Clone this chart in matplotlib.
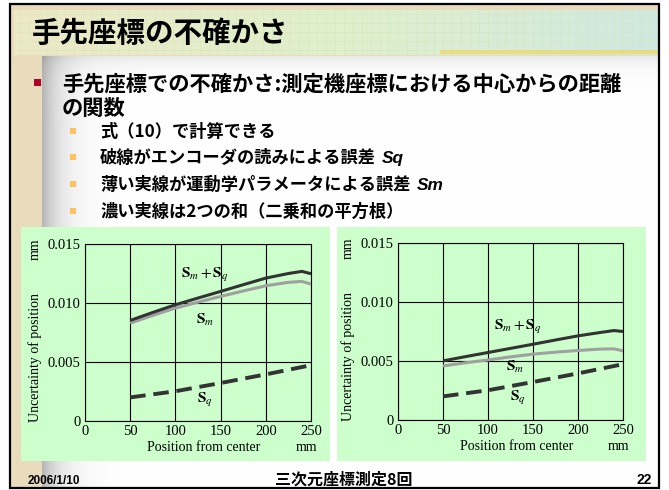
import numpy as np
import matplotlib
matplotlib.use("Agg")
import matplotlib.pyplot as plt
from matplotlib.patches import Rectangle

plt.rcParams['font.family'] = ['Noto Sans CJK JP', 'DejaVu Sans']
plt.rcParams['mathtext.fontset'] = 'stix'

# --- データ ---
pos = [50, 75, 100, 125, 150, 175, 200, 225, 240, 250]

# 左のグラフ
left_sum = [0.00852, 0.00920, 0.00985, 0.01042, 0.01098, 0.01155, 0.01211, 0.01250, 0.01268, 0.01248]
left_sm = [0.00829, 0.00895, 0.00957, 0.01007, 0.01056, 0.01102, 0.01146, 0.01175, 0.01183, 0.01160]
# 右のグラフ
right_sum = [0.00501, 0.00537, 0.00572, 0.00607, 0.00642, 0.00678, 0.00713, 0.00742, 0.00758, 0.00750]
right_sm = [0.00458, 0.00485, 0.00509, 0.00535, 0.00558, 0.00575, 0.00589, 0.00601, 0.00603, 0.00586]

pos_q = [50, 100, 150, 200, 250]
sq = [0.00200, 0.00252, 0.00322, 0.00395, 0.00473]

x_ticks = [0, 50, 100, 150, 200, 250]
y_ticks = [0, 0.005, 0.010, 0.015]
y_ticklabels = ['0', '0.005', '0.010', '0.015']

title = '手先座標の不確かさ'
main_bullet = ['手先座標での不確かさ:測定機座標における中心からの距離', 'の関数']
sub_bullets = ['式（10）で計算できる', '破線がエンコーダの読みによる誤差', '薄い実線が運動学パラメータによる誤差',
               '濃い実線は2つの和（二乗和の平方根）']
sub_suffix = ['', 'Sq', 'Sm', '']
footer_left = '2006/1/10'
footer_mid = '三次元座標測定8回'
footer_right = '22'

W, H = 669, 490
fig = plt.figure(figsize=(W / 100, H / 100), dpi=100)

# 背景（スライド）
bg = fig.add_axes([0, 0, 1, 1], zorder=0)
bg.set_xlim(0, W)
bg.set_ylim(H, 0)
bg.axis('off')

bg.add_patch(Rectangle((10, 4), 649, 484, facecolor='#E8DCBC', edgecolor='none'))

# 白い本文エリア（左に影）
xx = np.linspace(0, 616, 300)
yy = np.linspace(0, 430, 200)
X, Y = np.meshgrid(xx, yy)
shade = 1 - 0.28 * np.exp(-X / 18) - 0.08 * np.exp(-Y / 10)
img = np.dstack([shade, shade, shade])
bg.imshow(img, extent=(42, 658, 487, 57), aspect='auto', zorder=1)

# タイトル帯
tx = np.linspace(0, 1, 300)
c_left = np.array([0.93, 0.91, 0.78])
c_mid = np.array([0.88, 0.94, 0.80])
c_right = np.array([0.82, 0.91, 0.88])
band = np.where(tx[:, None] < 0.5,
                c_left + (c_mid - c_left) * (tx[:, None] / 0.5),
                c_mid + (c_right - c_mid) * ((tx[:, None] - 0.5) / 0.5))
band = np.repeat(band[None, :, :], 40, axis=0)
bg.imshow(band, extent=(14, 658, 55, 10), aspect='auto', zorder=1)
for gx in np.arange(20, 658, 9):
    bg.plot([gx, gx], [10, 55], color='#C8E8B0', lw=0.4, alpha=0.6, zorder=1.5)
for gy in np.arange(14, 55, 9):
    bg.plot([14, 658], [gy, gy], color='#C8E8B0', lw=0.4, alpha=0.6, zorder=1.5)
bg.add_patch(Rectangle((440, 50), 218, 4, facecolor='#F0D860', edgecolor='none', alpha=0.7, zorder=1.6))

bg.text(32, 34, title, fontsize=20.5, fontweight='bold', va='center', ha='left', zorder=3)

# 箇条書き
bg.add_patch(Rectangle((34, 79), 7, 7, facecolor='#B0002A', edgecolor='none', zorder=3))
bg.text(62, 84, main_bullet[0], fontsize=15.3, fontweight='bold', va='center', zorder=3)
bg.text(62, 108, main_bullet[1], fontsize=15.3, fontweight='bold', va='center', zorder=3)

renderer = fig.canvas.get_renderer()
for i, (s, suf) in enumerate(zip(sub_bullets, sub_suffix)):
    yb = [131, 157, 184, 211][i]
    bg.add_patch(Rectangle((70, yb - 3), 6, 6, facecolor='#FFC060', edgecolor='none', zorder=3))
    t = bg.text(100, yb + 1, s, fontsize=12.4, fontweight='bold', va='center', zorder=3)
    if suf:
        bb = t.get_window_extent(renderer)
        x_end = bg.transData.inverted().transform((bb.x1, bb.y0))[0]
        bg.text(x_end + 6, yb + 1, suf, fontsize=12.4, fontweight='bold', style='italic',
                family='Liberation Sans', va='center', zorder=3)

# 緑のパネル
bg.add_patch(Rectangle((21, 227), 309, 234, facecolor='#CCFFCC', edgecolor='none', zorder=2))
bg.add_patch(Rectangle((337, 227), 309, 234, facecolor='#CCFFCC', edgecolor='none', zorder=2))

# フッター
bg.text(28, 481, footer_left, fontsize=8.5, fontweight='bold', family='Liberation Sans', va='center', zorder=3)
bg.text(344, 480, footer_mid, fontsize=11.5, fontweight='bold', va='center', ha='center', zorder=3)
bg.text(652, 480, footer_right, fontsize=10, fontweight='bold', family='Liberation Sans', va='center',
        ha='right', zorder=3)

bg.add_patch(Rectangle((10, 4), 649, 484, facecolor='none', edgecolor='black', lw=1.6, zorder=4))


def draw_panel(ax, s_sum, s_m, lab_sum, lab_m, lab_q):
    ax.set_facecolor('none')
    ax.plot(pos, s_m, color='#A0A0A0', lw=2.2, solid_capstyle='butt', zorder=3)
    ax.plot(pos, s_sum, color='#333333', lw=2.2, solid_capstyle='butt', zorder=4)
    ax.plot(pos_q, sq, color='#333333', lw=2.8, dashes=(4, 2), zorder=4)
    ax.set_xlim(0, 250)
    ax.set_ylim(0, 0.015)
    ax.set_xticks(x_ticks)
    ax.set_yticks(y_ticks)
    ax.set_yticklabels(y_ticklabels)
    ax.grid(True, color='black', lw=0.8)
    ax.tick_params(length=0, labelsize=10.5, pad=3)
    for lab in ax.get_xticklabels() + ax.get_yticklabels():
        lab.set_family('Liberation Serif')
    for sp in ax.spines.values():
        sp.set_linewidth(0.8)
    serif = dict(family='Liberation Serif', fontsize=10)
    ax.text(-0.222, 0.356, 'Uncertainty of position', rotation=90, transform=ax.transAxes,
            ha='center', va='center', **serif)
    ax.text(-0.222, 0.97, 'mm', rotation=90, transform=ax.transAxes, ha='center', va='center', **serif)
    ax.text(0.527, -0.147, 'Position from center', transform=ax.transAxes, ha='center', va='center', **serif)
    ax.text(0.978, -0.147, 'mm', transform=ax.transAxes, ha='center', va='center', **serif)
    ax.text(lab_sum[0], lab_sum[1], r'$\mathbf{S}_{m} + \mathbf{S}_{q}$', fontsize=11, ha='center', va='center')
    ax.text(lab_m[0], lab_m[1], r'$\mathbf{S}_{m}$', fontsize=11, ha='center', va='center')
    ax.text(lab_q[0], lab_q[1], r'$\mathbf{S}_{q}$', fontsize=11, ha='center', va='center')


ax1 = fig.add_axes([85 / W, 1 - 421 / H, 226 / W, 177 / H], zorder=5)
draw_panel(ax1, left_sum, left_sm, (133, 0.0124), (133, 0.0086), (133, 0.0018))

ax2 = fig.add_axes([398 / W, 1 - 420 / H, 225 / W, 177 / H], zorder=5)
draw_panel(ax2, right_sum, right_sm, (133, 0.0079), (130, 0.0045), (133, 0.0019))

fig.savefig('out.png', dpi=100)
